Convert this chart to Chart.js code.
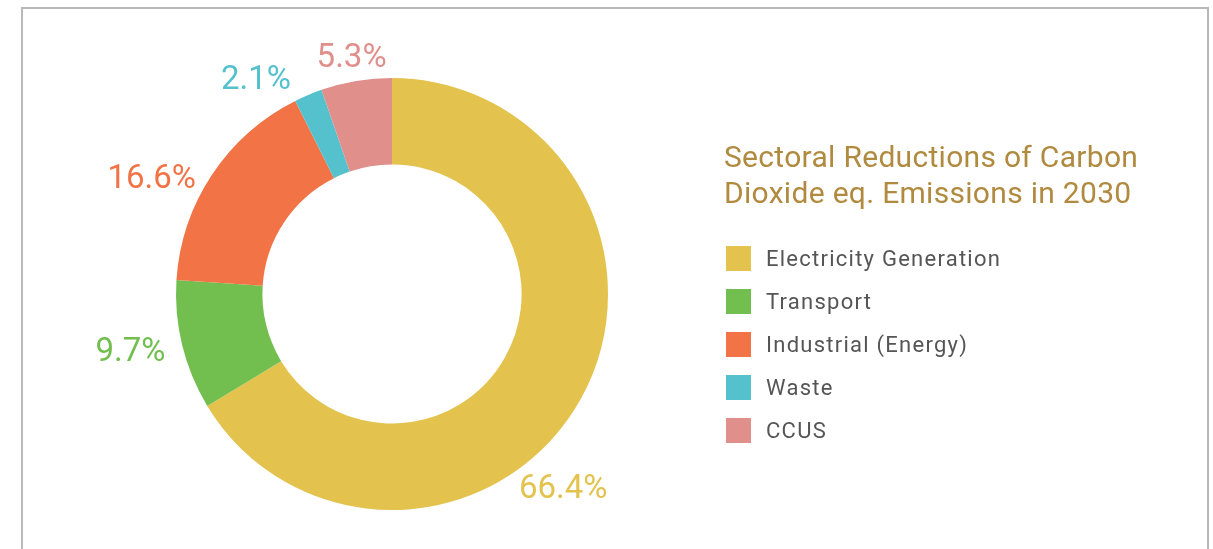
<!DOCTYPE html>
<html>
<head>
<meta charset="utf-8">
<script src="https://cdn.jsdelivr.net/npm/chart.js@4.4.1/dist/chart.umd.min.js"></script>
<style>
    body { margin: 0; background: #fff; font-family: Roboto, "Liberation Sans", sans-serif; }
    #wrap { position: relative; width: 1213px; height: 549px; overflow: hidden; }
    #frame { position: absolute; left: 21px; top: 7px; width: 1184px; height: 600px;
             border: 2px solid #b9b9b9; border-bottom: none; }
    #donut { position: absolute; left: 0; top: 0; }
    #title { position: absolute; left: 724px; top: 139px; color: #b08a3e;
             font-size: 30px; line-height: 36px; letter-spacing: 0.3px; }
    #legend { position: absolute; left: 726px; top: 246px; margin: 0; padding: 0; list-style: none; }
    #legend li { height: 43px; display: flex; align-items: flex-start; }
    #legend .box { width: 25px; height: 25px; margin-right: 15px; }
    #legend .txt { font-size: 22px; line-height: 25px; color: #555; letter-spacing: 1.25px; }
</style>
</head>
<body>
<div id="wrap">
    <div id="frame"></div>
    <canvas id="donut" width="1213" height="549"></canvas>
    <div id="title">Sectoral Reductions of Carbon<br>Dioxide eq. Emissions in 2030</div>
    <ul id="legend"></ul>
</div>
<script>
const sectors = ['Electricity Generation', 'Transport', 'Industrial (Energy)', 'Waste', 'CCUS'];
const shares = [66.4, 9.7, 16.6, 2.1, 5.3];
const sectorColors = ['#e3c24d', '#72bf50', '#f27446', '#55c1cd', '#e08f8b'];

// where each percentage label sits: angle shift (deg) from slice middle, and gap beyond the ring
const labelShift = [19.4, 1.1, -8.1, -9.7, -0.2];
const labelGap = [44, 52, 50, 37, 23];

const outsideLabels = {
    id: 'outsideLabels',
    afterDatasetsDraw(chart) {
        const ctx = chart.ctx;
        const arcs = chart.getDatasetMeta(0).data;
        ctx.save();
        ctx.font = '33px Roboto';
        ctx.textAlign = 'center';
        ctx.textBaseline = 'middle';
        arcs.forEach((arc, i) => {
            const mid = (arc.startAngle + arc.endAngle) / 2 + labelShift[i] * Math.PI / 180;
            const r = arc.outerRadius + labelGap[i];
            ctx.fillStyle = sectorColors[i];
            ctx.fillText(shares[i].toFixed(1) + '%', arc.x + Math.cos(mid) * r, arc.y + Math.sin(mid) * r);
        });
        ctx.restore();
    }
};

new Chart(document.getElementById('donut').getContext('2d'), {
    type: 'doughnut',
    data: {
        labels: sectors,
        datasets: [{
            data: shares,
            backgroundColor: sectorColors,
            borderWidth: 0
        }]
    },
    options: {
        responsive: false,
        animation: false,
        cutout: '60%',
        layout: {
            padding: { left: 176, right: 605, top: 78, bottom: 39 }
        },
        plugins: {
            legend: { display: false },
            tooltip: { enabled: false }
        }
    },
    plugins: [outsideLabels]
});

const legend = document.getElementById('legend');
sectors.forEach((name, i) => {
    const li = document.createElement('li');
    li.innerHTML = `<span class="box" style="background:${sectorColors[i]}"></span><span class="txt">${name}</span>`;
    legend.appendChild(li);
});
</script>
</body>
</html>
